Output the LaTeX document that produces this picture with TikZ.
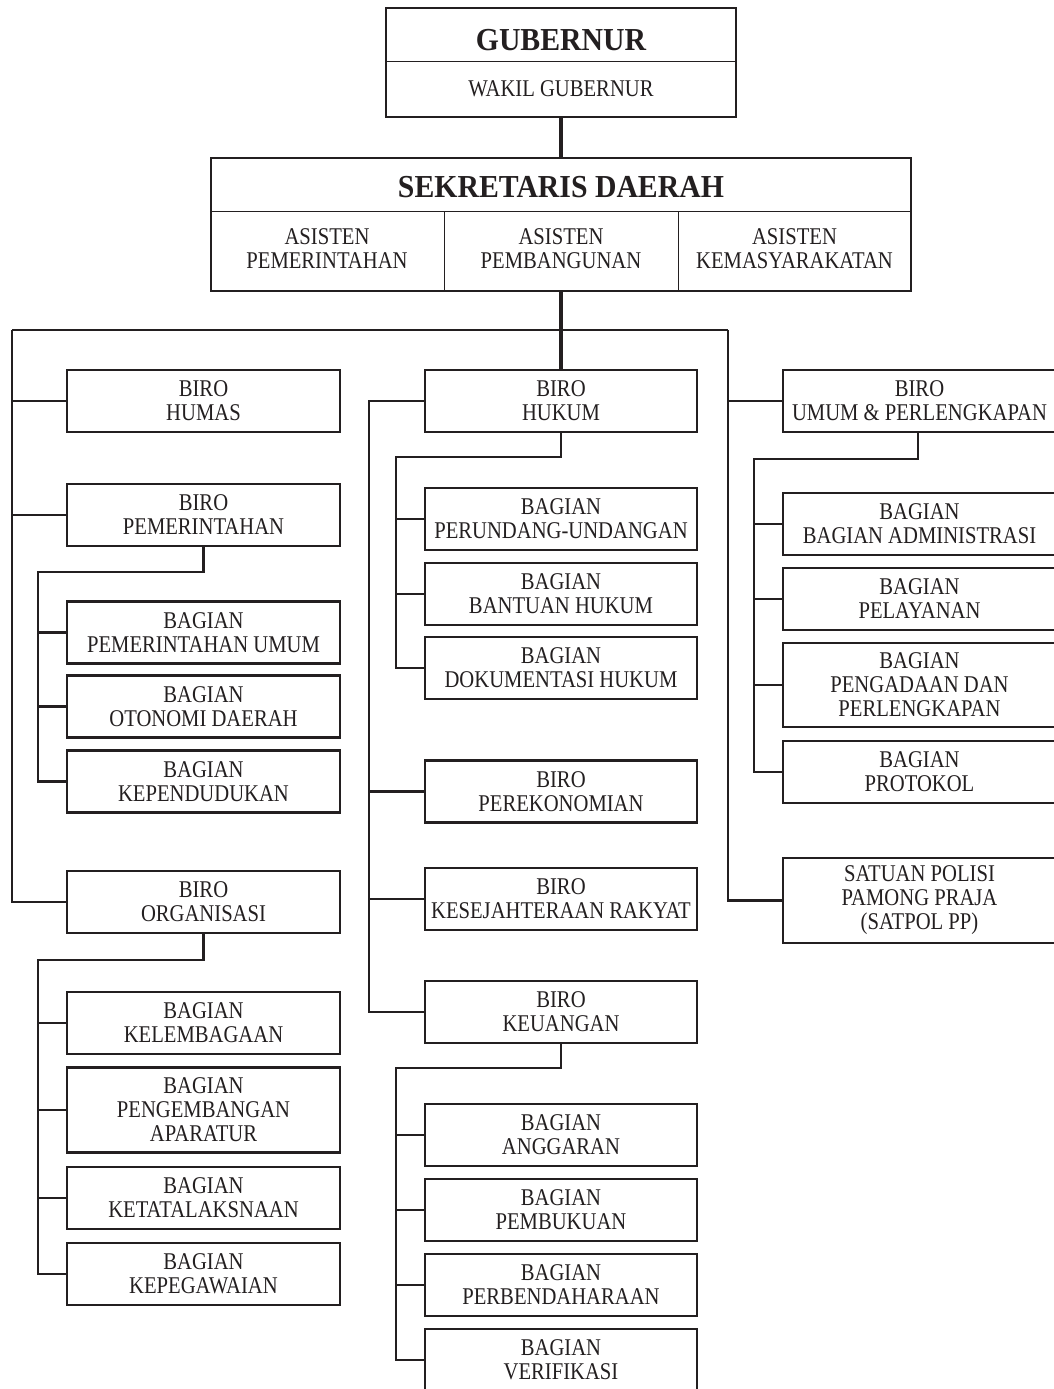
\documentclass[tikz,border=0pt]{standalone}
\usepackage{fontspec}
\setmainfont{Liberation Serif}[FakeStretch=0.86]
\newfontfamily\titlefont{Liberation Serif}[FakeStretch=0.93]
\definecolor{ink}{RGB}{35,31,32}
\begin{document}
\begin{tikzpicture}[x=1pt,y=-1pt,
  box/.style={draw=ink, line width=2.8pt, align=center, inner sep=0pt, minimum height=62pt, font=\fontsize{24}{24}\selectfont, text=ink},
  lbox/.style={box, minimum width=273pt},
  mbox/.style={box, minimum width=272pt},
  rbox/.style={box, minimum width=273pt},
  tall/.style={minimum height=85pt},
  frame/.style={draw=ink, line width=2.4pt, inner sep=0pt},
  conn/.style={draw=ink, line width=2.3pt, line join=miter},
  trunk/.style={draw=ink, line width=3.8pt},
  thin/.style={draw=ink, line width=1pt},
  lbl/.style={inner sep=0pt, align=center, text=ink, font=\fontsize{24}{24}\selectfont},
  title/.style={inner sep=0pt, text=ink, font=\titlefont\fontsize{32}{36}\selectfont\bfseries}]
\useasboundingbox (0,0) rectangle (1054,1389);
\fill[white] (0,0) rectangle (1054,1389);

% ---- top ----
\node[frame, minimum width=350pt, minimum height=109pt] (gubbox) at (561,62.5) {};
\draw[thin] (386,62) -- (736,62);
\node[title] (gub) at (561,40) {GUBERNUR};
\node[lbl] (wakil) at (561,89) {WAKIL GUBERNUR};

\node[frame, minimum width=700pt, minimum height=133pt] (sekbox) at (561,224.5) {};
\draw[thin] (211,211) -- (911,211);
\draw[thin] (444,211) -- (444,291);
\draw[thin] (678,211) -- (678,291);
\node[title] (sek) at (561,187) {SEKRETARIS DAERAH};
\node[lbl] (asp) at (327,249) {ASISTEN\\PEMERINTAHAN};
\node[lbl] (asb) at (561,249) {ASISTEN\\PEMBANGUNAN};
\node[lbl] (ask) at (794.5,249) {ASISTEN\\KEMASYARAKATAN};

% ---- left column ----
\node[lbox] (humas) at (203.5,401) {BIRO\\HUMAS};
\node[lbox] (pem) at (203.5,515) {BIRO\\PEMERINTAHAN};
\node[lbox] (pemu) at (203.5,632.5) {BAGIAN\\PEMERINTAHAN UMUM};
\node[lbox] (oto) at (203.5,706.5) {BAGIAN\\OTONOMI DAERAH};
\node[lbox] (kpd) at (203.5,781.5) {BAGIAN\\KEPENDUDUKAN};
\node[lbox] (org) at (203.5,902) {BIRO\\ORGANISASI};
\node[lbox] (klb) at (203.5,1023) {BAGIAN\\KELEMBAGAAN};
\node[lbox,tall] (pga) at (203.5,1110) {BAGIAN\\PENGEMBANGAN\\APARATUR};
\node[lbox] (ktl) at (203.5,1198) {BAGIAN\\KETATALAKSNAAN};
\node[lbox] (kpg) at (203.5,1274) {BAGIAN\\KEPEGAWAIAN};

% ---- middle column ----
\node[mbox] (hukum) at (561,401) {BIRO\\HUKUM};
\node[mbox] (pu) at (561,519) {BAGIAN\\PERUNDANG-UNDANGAN};
\node[mbox] (bh) at (561,594) {BAGIAN\\BANTUAN HUKUM};
\node[mbox] (dh) at (561,668) {BAGIAN\\DOKUMENTASI HUKUM};
\node[mbox] (perek) at (561,791.5) {BIRO\\PEREKONOMIAN};
\node[mbox] (kesra) at (561,899) {BIRO\\KESEJAHTERAAN RAKYAT};
\node[mbox] (keu) at (561,1012) {BIRO\\KEUANGAN};
\node[mbox] (ang) at (561,1135) {BAGIAN\\ANGGARAN};
\node[mbox] (pbk) at (561,1210) {BAGIAN\\PEMBUKUAN};
\node[mbox] (pbd) at (561,1285) {BAGIAN\\PERBENDAHARAAN};
\node[mbox] (ver) at (561,1360) {BAGIAN\\VERIFIKASI};

% ---- right column ----
\node[rbox] (umum) at (919.5,401) {BIRO\\UMUM \& PERLENGKAPAN};
\node[rbox] (adm) at (919.5,524) {BAGIAN\\BAGIAN ADMINISTRASI};
\node[rbox] (pel) at (919.5,599) {BAGIAN\\PELAYANAN};
\node[rbox,minimum height=84pt] (pgd) at (919.5,685) {BAGIAN\\PENGADAAN DAN\\PERLENGKAPAN};
\node[rbox] (prt) at (919.5,772) {BAGIAN\\PROTOKOL};
\node[rbox,tall] (sat) at (919.5,900.5) {SATUAN POLISI\\PAMONG PRAJA\\(SATPOL PP)};

% ---- trunk ----
\draw[trunk] (gubbox.south) -- (sekbox.north);
\draw[trunk] (sekbox.south) -- (hukum.north);

% ---- main bar ----
\coordinate (hL) at (12,330);
\coordinate (hR) at (728,330);
\draw[conn] (hL) -- (hR);
\draw[conn] (hL) |- (org.west);
\draw[conn] (hL |- humas.west) -- (humas.west);
\draw[conn] (hL |- pem.west) -- (pem.west);
\draw[conn] (hR) |- (sat.west);
\draw[conn] (hR |- umum.west) -- (umum.west);

% ---- middle spine ----
\coordinate (mT) at (369,401);
\draw[conn] (hukum.west) -- (mT) |- (keu.west);
\draw[conn] (mT |- perek.west) -- (perek.west);
\draw[conn] (mT |- kesra.west) -- (kesra.west);

% ---- sub spines ----
\coordinate (pemS) at (38,572);
\draw[conn] (pem.south) |- (pemS) |- (kpd.west);
\draw[conn] (pemS |- pemu.west) -- (pemu.west);
\draw[conn] (pemS |- oto.west) -- (oto.west);

\coordinate (orgS) at (38,960);
\draw[conn] (org.south) |- (orgS) |- (kpg.west);
\draw[conn] (orgS |- klb.west) -- (klb.west);
\draw[conn] (orgS |- pga.west) -- (pga.west);
\draw[conn] (orgS |- ktl.west) -- (ktl.west);

\coordinate (hukS) at (396,457);
\draw[conn] (hukum.south) |- (hukS) |- (dh.west);
\draw[conn] (hukS |- pu.west) -- (pu.west);
\draw[conn] (hukS |- bh.west) -- (bh.west);

\coordinate (keuS) at (396,1068);
\draw[conn] (keu.south) |- (keuS) |- (ver.west);
\draw[conn] (keuS |- ang.west) -- (ang.west);
\draw[conn] (keuS |- pbk.west) -- (pbk.west);
\draw[conn] (keuS |- pbd.west) -- (pbd.west);

\coordinate (umS) at (754,459);
\draw[conn] (umum.south -| 918,0) |- (umS) |- (prt.west);
\draw[conn] (umS |- adm.west) -- (adm.west);
\draw[conn] (umS |- pel.west) -- (pel.west);
\draw[conn] (umS |- pgd.west) -- (pgd.west);
\end{tikzpicture}
\end{document}
